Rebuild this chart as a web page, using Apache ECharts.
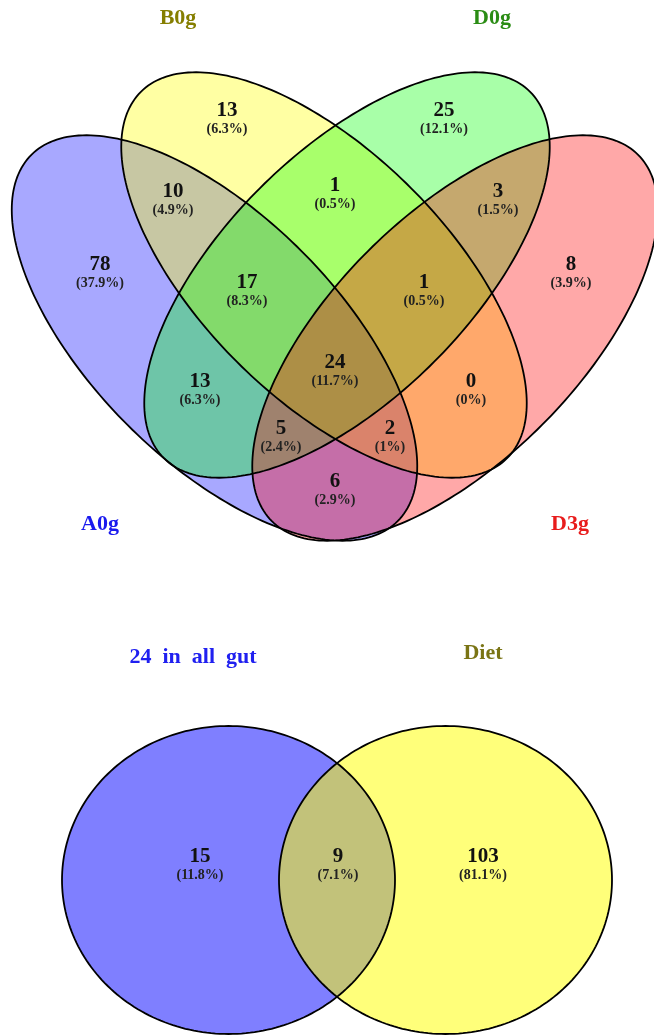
<!DOCTYPE html>
<html>
<head>
<meta charset="utf-8">
<script src="https://cdn.jsdelivr.net/npm/echarts@6/dist/echarts.min.js"></script>
<style>
html,body{margin:0;padding:0;background:#ffffff;}
#chart{width:654px;height:1036px;}
</style>
</head>
<body>
<div id="chart"></div>
<script>
// ---------------- data ----------------
const quadSetNames = ['A0g', 'B0g', 'D0g', 'D3g'];
// region order: A, B, D0, D3, A&B, B&D0, D0&D3, A&B&D0, B&D0&D3, A&D0, all, B&D3, A&D0&D3, A&B&D3, A&D3
const quadCounts = [78, 13, 25, 8, 10, 1, 3, 17, 1, 13, 24, 0, 5, 2, 6];
const quadPercents = ['37.9%', '6.3%', '12.1%', '3.9%', '4.9%', '0.5%', '1.5%', '8.3%', '0.5%', '6.3%', '11.7%', '0%', '2.4%', '1%', '2.9%'];
const pairSetNames = ['24  in  all  gut', 'Diet'];
const pairCounts = [15, 9, 103];
const pairPercents = ['11.8%', '7.1%', '81.1%'];

// ---------------- layout (diagram geometry, in axis units) ----------------
const quadEllipses = [
  {cx: 214.5, cy: 338, a: 259, b: 123, rot: 45},
  {cx: 324,   cy: 275, a: 259, b: 123, rot: 45},
  {cx: 347,   cy: 275, a: 259, b: 123, rot: 135},
  {cx: 455,   cy: 338, a: 259, b: 123, rot: 135}
];
const quadFills = ['rgba(0,0,255,0.34)', 'rgba(255,255,0,0.36)', 'rgba(0,255,0,0.34)', 'rgba(255,0,0,0.34)'];
const quadNameColors = ['#1a1aee', '#857e00', '#2a8c14', '#e81c1c'];
const quadNamePos = [[100, 524], [178, 18], [492, 18], [570, 524]];
const quadLabelPos = [
  [100, 265], [227, 111], [444, 111], [571, 265],
  [173, 192], [335, 186], [498, 192],
  [247, 283], [424, 283],
  [200, 382], [335, 363], [471, 382],
  [281, 429], [390, 429], [335, 482]
];
const pairEllipses = [
  {cx: 228.5, cy: 880, a: 166.5, b: 154, rot: 0},
  {cx: 445.5, cy: 880, a: 166.5, b: 154, rot: 0}
];
const pairFills = ['rgba(0,0,255,0.5)', 'rgba(255,255,0,0.52)'];
const pairNameColors = ['#2020f0', '#7a7414'];
const pairNamePos = [[193, 657], [483, 653]];
const pairLabelPos = [[200, 857], [338, 857], [483, 857]];

// ---------------- build ----------------
const shapes = quadEllipses.map((e, i) => Object.assign({fill: quadFills[i]}, e))
  .concat(pairEllipses.map((e, i) => Object.assign({fill: pairFills[i]}, e)));

function ellipsePts(api, e) {
  const n = 240, th = e.rot * Math.PI / 180, c = Math.cos(th), s = Math.sin(th);
  const pts = [];
  for (let k = 0; k < n; k++) {
    const t = k / n * Math.PI * 2;
    const u = e.a * Math.cos(t), v = e.b * Math.sin(t);
    pts.push(api.coord([e.cx + u * c - v * s, e.cy + u * s + v * c]));
  }
  return pts;
}

const regionLabels = quadLabelPos.map((p, i) => [p[0], p[1], quadCounts[i], quadPercents[i]])
  .concat(pairLabelPos.map((p, i) => [p[0], p[1], pairCounts[i], pairPercents[i]]));
const nameLabels = quadNamePos.map((p, i) => [p[0], p[1], quadSetNames[i], quadNameColors[i]])
  .concat(pairNamePos.map((p, i) => [p[0], p[1], pairSetNames[i], pairNameColors[i]]));

const FONT = '"Liberation Serif", "Times New Roman", serif';

const chart = echarts.init(document.getElementById('chart'), null, {renderer: 'canvas'});
chart.setOption({
  backgroundColor: '#ffffff',
  animation: false,
  grid: {left: 0, right: 0, top: 0, bottom: 0},
  xAxis: {type: 'value', min: 0, max: 654, show: false},
  yAxis: {type: 'value', min: 0, max: 1036, inverse: true, show: false},
  series: [
    {
      type: 'custom', silent: true, clip: false,
      data: shapes.map((s, i) => [i]),
      renderItem: (params, api) => {
        const e = shapes[api.value(0)];
        return {type: 'polygon', shape: {points: ellipsePts(api, e)}, style: {fill: e.fill, stroke: null}};
      }
    },
    {
      type: 'custom', silent: true, clip: false,
      data: shapes.map((s, i) => [i]),
      renderItem: (params, api) => {
        const e = shapes[api.value(0)];
        return {type: 'polygon', shape: {points: ellipsePts(api, e)}, style: {fill: null, stroke: '#000', lineWidth: 1.8}};
      }
    },
    {
      type: 'custom', silent: true, clip: false,
      data: regionLabels,
      renderItem: (params, api) => {
        const d = regionLabels[params.dataIndex];
        const p = api.coord([d[0], d[1]]);
        return {type: 'group', children: [
          {type: 'text', x: p[0], y: p[1], style: {text: String(d[2]), font: 'bold 21px ' + FONT, fill: '#111', align: 'center', verticalAlign: 'middle'}},
          {type: 'text', x: p[0], y: p[1] + 18, style: {text: '(' + d[3] + ')', font: 'bold 14px ' + FONT, fill: '#222', align: 'center', verticalAlign: 'middle'}}
        ]};
      }
    },
    {
      type: 'custom', silent: true, clip: false,
      data: nameLabels.map(d => [d[0], d[1]]),
      renderItem: (params, api) => {
        const d = nameLabels[params.dataIndex];
        const p = api.coord([d[0], d[1]]);
        return {type: 'text', x: p[0], y: p[1], style: {text: d[2], font: 'bold 22px ' + FONT, fill: d[3], align: 'center', verticalAlign: 'middle'}};
      }
    }
  ]
});
</script>
</body>
</html>
